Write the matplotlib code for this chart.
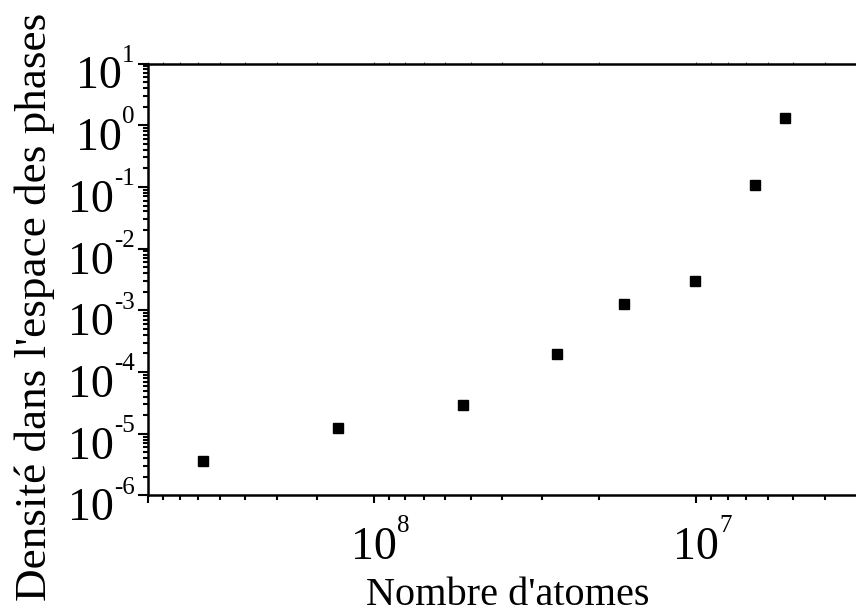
import numpy as np
import matplotlib
matplotlib.use('Agg')
import matplotlib.pyplot as plt
from matplotlib.ticker import FixedLocator, NullFormatter

plt.rcParams['font.family'] = ['Liberation Serif', 'DejaVu Serif']

# Data
atomes = [3.38e8, 1.29e8, 5.3e7, 2.71e7, 1.68e7, 1.01e7, 6.6e6, 5.3e6]
densite = [3.6e-6, 1.23e-5, 2.96e-5, 1.94e-4, 1.27e-3, 3.0e-3, 0.108, 1.31]

x_major = [1e8, 1e7]
x_major_exp = ['8', '7']
y_major_exp = ['1', '0', '-1', '-2', '-3', '-4', '-5', '-6']
y_major = [10.0 ** int(e) for e in y_major_exp]

# Minor ticks as drawn in the original (half-steps in the upper decade)
x_minor = [5e8, 4.5e8, 4e8, 3.5e8, 3e8, 2.5e8, 2e8, 1.5e8,
           9e7, 8e7, 7e7, 6e7, 5e7, 4e7, 3e7, 2e7,
           9e6, 8e6, 7e6, 6e6, 5e6, 4e6]

fig = plt.figure(figsize=(8.56, 6.13), dpi=100)
ax = fig.add_axes([0.1733, 0.1917, 0.8267, 0.7047])

ax.plot(atomes, densite, linestyle='none', marker='s', markersize=7.5,
        color='black', markeredgecolor='black')

ax.set_xscale('log')
ax.set_yscale('log')
ax.set_xlim(5e8, 3.2e6)
ax.set_ylim(1e-6, 1e1)

ax.xaxis.set_major_locator(FixedLocator([5e8] + x_major))
ax.xaxis.set_minor_locator(FixedLocator(x_minor))
ax.yaxis.set_major_locator(FixedLocator(y_major))
ax.yaxis.set_minor_locator(FixedLocator(
    [m * 10.0 ** k for k in range(-6, 1) for m in range(2, 10)]))
for axis in (ax.xaxis, ax.yaxis):
    axis.set_major_formatter(NullFormatter())
    axis.set_minor_formatter(NullFormatter())

ax.tick_params(axis='x', which='major', direction='out', length=6, width=1.5)
ax.tick_params(axis='x', which='minor', direction='out', length=3.5, width=1.5)
ax.tick_params(axis='y', which='major', direction='out', length=7, width=1.5)
ax.tick_params(axis='y', which='minor', direction='out', length=3.5, width=1.5)
ax.grid(False)

# tiny marks on the top frame, as in the original
top = ax.secondary_xaxis('top')
top.xaxis.set_major_locator(FixedLocator(x_major))
top.xaxis.set_minor_locator(FixedLocator(x_minor))
top.xaxis.set_major_formatter(NullFormatter())
top.xaxis.set_minor_formatter(NullFormatter())
top.tick_params(which='both', direction='out', length=1.2, width=0.8,
                color='#555555')
top.spines['top'].set_visible(False)

for side in ('left', 'bottom', 'top'):
    ax.spines[side].set_linewidth(1.8)
ax.spines['right'].set_visible(False)

# Tick labels: "10" with a small raised exponent
for val, ex in zip(x_major, x_major_exp):
    ten = ax.annotate('10', xy=(val, 0), xycoords=('data', 'axes fraction'),
                      xytext=(0, -22.5), textcoords='offset points',
                      ha='center', va='top', fontsize=33)
    ax.annotate(ex, xy=(1, 1), xycoords=ten, xytext=(0, 8.5),
                textcoords='offset points', ha='left', va='top', fontsize=18)

for val, ex in zip(y_major, y_major_exp):
    sup = ax.annotate(ex, xy=(0, val), xycoords=('axes fraction', 'data'),
                      xytext=(-10, 13.5), textcoords='offset points',
                      ha='right', va='top', fontsize=18)
    ax.annotate('10', xy=(0, 1), xycoords=sup, xytext=(0, -8),
                textcoords='offset points', ha='right', va='top', fontsize=33)

fig.text(508 / 856, 1 - 605 / 613, "Nombre d'atomes", ha='center',
         va='baseline', fontsize=29)
fig.text(35 / 856, 1 - 601 / 613, "Densité dans l'espace des phases",
         rotation=90, ha='center', va='bottom', fontsize=32.5)

fig.savefig('out.png', dpi=100, facecolor='white')
